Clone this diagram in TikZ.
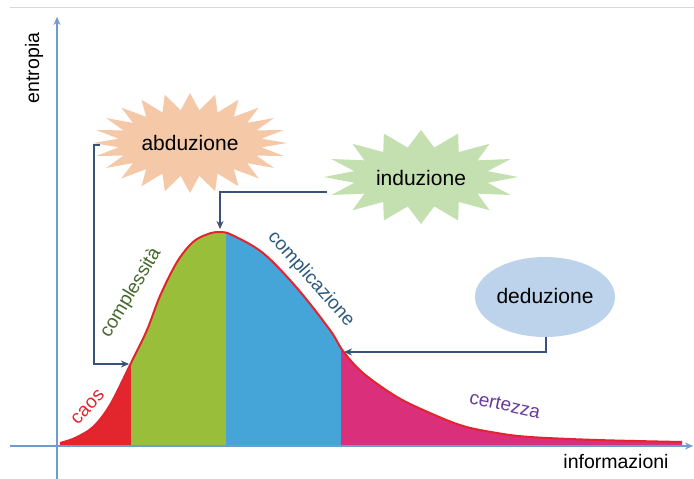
\documentclass[tikz,border=0pt]{standalone}
\usepackage{fontspec}
\setmainfont{Liberation Sans}
\usetikzlibrary{arrows.meta}
\definecolor{axisblue}{RGB}{112,155,205}
\definecolor{connavy}{RGB}{58,82,120}
\definecolor{caosred}{RGB}{227,38,45}
\definecolor{complgreen}{RGB}{152,190,58}
\definecolor{complblue}{RGB}{69,164,216}
\definecolor{certpink}{RGB}{218,48,124}
\definecolor{curvered}{RGB}{228,35,47}
\definecolor{abdpeach}{RGB}{245,200,168}
\definecolor{indgreen}{RGB}{196,224,176}
\definecolor{dedblue}{RGB}{188,211,235}
\definecolor{txtgreen}{RGB}{70,105,45}
\definecolor{txtblue}{RGB}{45,90,125}
\definecolor{txtpurple}{RGB}{105,60,155}
\newcommand\burst[9]{%
  \pgfmathsetmacro\burststep{360/#7}%
  \fill[#9] plot[samples=#8, domain=0:#7, variable=\t]
   ({#1+((#3-#5)*(1-mod(round(\t),2))+#5)*cos(\t*\burststep)},
    {#2+((#4-#6)*(1-mod(round(\t),2))+#6)*sin(\t*\burststep)}) -- cycle;}
\begin{document}
\begin{tikzpicture}[x=1pt,y=-1pt,
  axis/.style={draw=axisblue,line width=1.6pt,-{Stealth[length=8pt,width=7pt]}},
  conn/.style={draw=connavy,line width=2pt,-{Stealth[length=8pt,width=7pt]}},
  nodetext/.style={font=\fontsize{21}{25}\selectfont,text=black},
  axislabel/.style={font=\fontsize{19.5}{23}\selectfont,text=black},
  zonelabel/.style={font=\fontsize{19}{23}\selectfont}]
\useasboundingbox (0,0) rectangle (694,479);
\fill[white] (0,0) rectangle (694,479);
\draw[black!15,line width=1pt] (10,7) -- (694,7);

% curve regions
\def\curvepts{(60,443) (75,438) (93,427) (110,405) (131,363) (147,330) (160,296) (177,262) (193,242) (208,234) (220,232) (232,235) (263,253) (297,288) (330,330) (343,351) (363,373) (397,397) (430,413) (463,426) (497,433) (530,437) (597,440) (682,442)}
\begin{scope}
  \clip (60,446) -- plot[smooth,tension=0.55] coordinates {\curvepts} -- (682,446) -- cycle;
  \fill[caosred] (55,200) rectangle (131,450);
  \fill[complgreen] (131,200) rectangle (226,450);
  \fill[complblue] (226,200) rectangle (341,450);
  \fill[certpink] (341,200) rectangle (690,450);
\end{scope}
\draw[curvered,line width=2pt] plot[smooth,tension=0.55] coordinates {\curvepts};

% axes
\coordinate (xs) at (10,446);
\coordinate (xe) at (693,446);
\coordinate (ys) at (57,479);
\coordinate (ye) at (57,17);
\draw[axis] (xs) -- (xe);
\draw[axis] (ys) -- (ye);
\node[axislabel,rotate=90] (entropia) at (34,68) {entropia};
\node[axislabel] (informazioni) at (616,462) {informazioni};

% shapes
\burst{190}{143}{97}{50}{72}{33}{48}{49}{abdpeach}
\burst{421}{177}{97}{47}{68}{30}{32}{33}{indgreen}
\fill[dedblue] (545,297) ellipse [x radius=70, y radius=40];
\node[nodetext] (abd) at (190,143) {abduzione};
\node[nodetext] (ind) at (421,178) {induzione};
\node[nodetext] (ded) at (545,296) {deduzione};

% connector endpoints
\coordinate (abdL) at (100,145);
\coordinate (indL) at (327,192);
\coordinate (dedB) at (546,337);
\coordinate (p1) at (129,364);
\coordinate (p2) at (220,229);
\coordinate (p3) at (344,352);
\draw[conn] (abdL) -- (94,145) |- (p1);
\draw[conn] (indL) -| (p2);
\draw[conn] (dedB) |- (p3);

% zone labels
\node[zonelabel,text=caosred,rotate=47] (caos) at (88,407) {caos};
\node[zonelabel,text=txtgreen,rotate=59] (compl) at (131,293) {complessità};
\node[zonelabel,text=txtblue,rotate=-48.5] (complic) at (311,279) {complicazione};
\node[zonelabel,text=txtpurple,rotate=-12.5] (cert) at (505,405) {certezza};
\end{tikzpicture}
\end{document}
